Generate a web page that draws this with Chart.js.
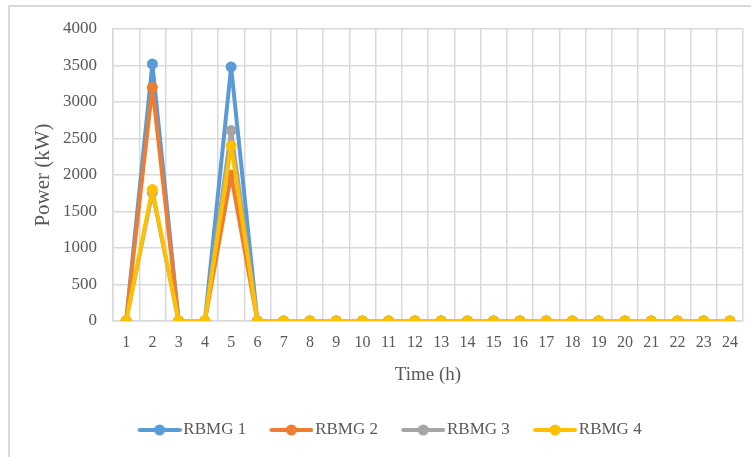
<!DOCTYPE html>
<html>
<head>
<meta charset="utf-8">
<script src="https://cdn.jsdelivr.net/npm/chart.js@4/dist/chart.umd.min.js"></script>
<style>
  html, body { margin: 0; padding: 0; background: #fff; overflow: hidden; }
  #wrap { position: relative; width: 751px; height: 457px; overflow: hidden; }
  #frame { position: absolute; left: 8px; top: 5px; width: 800px; height: 500px;
           border: 2px solid #d9d9d9; box-sizing: border-box; }
  canvas { position: absolute; left: 0; top: 0; }
</style>
</head>
<body>
<div id="wrap">
  <div id="frame"></div>
  <canvas id="c" width="751" height="457"></canvas>
</div>
<script>
// Hourly power output of each microgrid
const hours = ['1','2','3','4','5','6','7','8','9','10','11','12','13','14','15','16','17','18','19','20','21','22','23','24'];
const rbmg1 = [0, 3520, 0, 0, 3480, 0, 0, 0, 0, 0, 0, 0, 0, 0, 0, 0, 0, 0, 0, 0, 0, 0, 0, 0];
const rbmg2 = [0, 3200, 0, 0, 2000, 0, 0, 0, 0, 0, 0, 0, 0, 0, 0, 0, 0, 0, 0, 0, 0, 0, 0, 0];
const rbmg3 = [0, 1760, 0, 0, 2610, 0, 0, 0, 0, 0, 0, 0, 0, 0, 0, 0, 0, 0, 0, 0, 0, 0, 0, 0];
const rbmg4 = [0, 1800, 0, 0, 2400, 0, 0, 0, 0, 0, 0, 0, 0, 0, 0, 0, 0, 0, 0, 0, 0, 0, 0, 0];
const seriesNames = ['RBMG 1', 'RBMG 2', 'RBMG 3', 'RBMG 4'];
const seriesColors = ['#5B9BD5', '#ED7D31', '#A5A5A5', '#FFC000'];

const textColor = '#595959';
const gridColor = '#d9d9d9';
const serif = '"Liberation Serif", "Times New Roman", serif';

// Legend marker: a short line with a dot in the middle, sitting just left of the label text
function legendMarker(color) {
  const cv = document.createElement('canvas');
  cv.width = 64; cv.height = 12;
  const g = cv.getContext('2d');
  g.strokeStyle = color; g.lineWidth = 4; g.lineCap = 'round';
  g.beginPath(); g.moveTo(22, 6); g.lineTo(62, 6); g.stroke();
  g.fillStyle = color;
  g.beginPath(); g.arc(42, 6, 5.5, 0, Math.PI * 2); g.fill();
  return cv;
}

const allSeries = [rbmg1, rbmg2, rbmg3, rbmg4];
const datasets = allSeries.map((vals, i) => ({
  label: seriesNames[i],
  data: vals,
  borderColor: seriesColors[i],
  backgroundColor: seriesColors[i],
  borderWidth: 4,
  borderJoinStyle: 'round',
  borderCapStyle: 'round',
  pointRadius: 5.5,
  pointHoverRadius: 5.5,
  pointBorderWidth: 0,
  tension: 0,
  order: allSeries.length - i   // later series drawn on top
}));

new Chart(document.getElementById('c'), {
  type: 'line',
  data: { labels: hours, datasets },
  options: {
    responsive: false,
    animation: false,
    devicePixelRatio: 1,
    layout: { padding: { top: 29, right: 8, left: 23, bottom: 8.5 } },
    plugins: {
      tooltip: { enabled: false },
      legend: {
        position: 'bottom',
        labels: {
          sort: (a, b) => a.datasetIndex - b.datasetIndex,
          usePointStyle: true,
          pointStyleWidth: 50.5,
          padding: 10,
          color: textColor,
          font: { family: serif, size: 17 },
          generateLabels: (chart) => {
            const items = Chart.defaults.plugins.legend.labels.generateLabels(chart);
            items.forEach(it => { it.pointStyle = legendMarker(seriesColors[it.datasetIndex]); });
            return items;
          }
        }
      }
    },
    scales: {
      x: {
        offset: true,
        grid: { color: gridColor, lineWidth: 1.5, offset: true, drawTicks: false },
        border: { color: gridColor, width: 1.5 },
        ticks: { color: textColor, font: { family: serif, size: 16 }, padding: 12, maxRotation: 0, autoSkip: false },
        title: { display: true, text: 'Time (h)', color: textColor, font: { family: serif, size: 19 }, padding: { top: 6, bottom: 25 } },
        afterFit: (s) => { s.height = 90.5; }
      },
      y: {
        min: 0, max: 4000,
        grid: { color: gridColor, lineWidth: 1.5, drawTicks: false },
        border: { color: gridColor, width: 1.5 },
        ticks: { stepSize: 500, color: textColor, font: { family: serif, size: 17 }, padding: 16,
                 callback: (v) => String(v) },
        title: { display: true, text: 'Power (kW)', color: textColor, font: { family: serif, size: 21 }, padding: { top: 8, bottom: 0 } },
        afterFit: (s) => { s.width = 90; }
      }
    }
  }
});
</script>
</body>
</html>
